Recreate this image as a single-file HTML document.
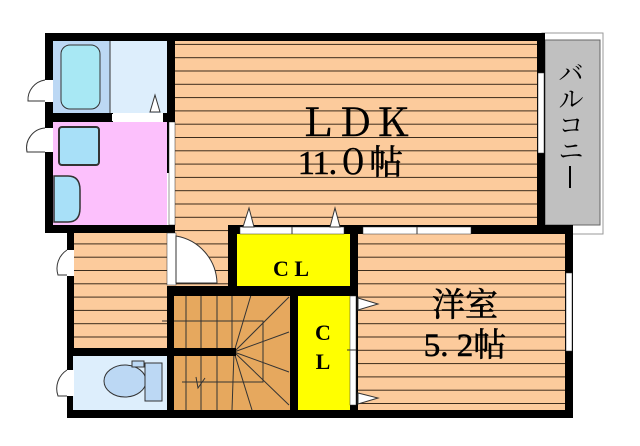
<!DOCTYPE html>
<html><head><meta charset="utf-8"><style>
html,body{margin:0;padding:0;background:#fff;width:640px;height:446px;overflow:hidden}
text{font-family:"Liberation Serif","Noto Serif CJK SC",serif;fill:#000}
.cj{font-family:"Noto Serif CJK SC","Liberation Serif",serif}
</style></head><body>
<svg width="640" height="446" viewBox="0 0 640 446" xmlns="http://www.w3.org/2000/svg">
<defs>
<pattern id="wd" width="10" height="13.3" patternUnits="userSpaceOnUse" y="4">
<rect width="10" height="13.3" fill="#fccb9c"/><line x1="0" y1="0.5" x2="10" y2="0.5" stroke="#3a2a1a" stroke-width="1"/>
</pattern>
</defs>
<rect x="542" y="33" width="61" height="201" fill="#fff" stroke="#999" stroke-width="1"/>
<rect x="545" y="40" width="55" height="185" fill="#c0c0c0" stroke="#666" stroke-width="1"/>
<rect x="175" y="41" width="362" height="185" fill="url(#wd)"/>
<rect x="167" y="226" width="63" height="62" fill="url(#wd)"/>
<rect x="53" y="41" width="57" height="72" fill="#bcd8f4"/>
<rect x="110" y="41" width="57" height="72" fill="#ddeefc"/>
<rect x="61" y="45" width="39" height="64" rx="9" fill="#a8e8f4" stroke="#333"/>
<line x1="110" y1="41" x2="110" y2="113" stroke="#333"/>
<polygon points="150,112 155,95 160,112" fill="#fff" stroke="#333"/>
<rect x="53" y="122" width="114" height="104" fill="#fcc0fc"/>
<rect x="59" y="127" width="40" height="38" rx="3" fill="#a8e0f8" stroke="#333" stroke-width="2"/>
<path d="M54 176 H68 Q80 176 80 190 V208 Q80 222 68 222 H54 Z" fill="#a8e0f8" stroke="#333" stroke-width="1.5"/>
<rect x="45" y="33" width="498" height="8" fill="#000"/>
<rect x="45" y="33" width="8" height="200" fill="#000"/>
<rect x="167" y="33" width="8" height="140" fill="#000"/>
<rect x="169" y="122" width="6" height="103" fill="#fff" stroke="#333" stroke-width="0.5"/>
<rect x="53" y="113" width="60" height="9" fill="#000"/>
<rect x="112" y="114" width="51" height="7" fill="#fff"/>
<rect x="163" y="113" width="12" height="9" fill="#000"/>
<rect x="537" y="33" width="8" height="193" fill="#000"/>
<rect x="538" y="73" width="6" height="80" fill="#fff" stroke="#333" stroke-width="0.5"/>
<rect x="45" y="225" width="130" height="8" fill="#000"/>
<rect x="45" y="80" width="8" height="22" fill="#fff"/>
<path d="M45 80 A20 20 0 0 0 28 101 H45" fill="#fff" stroke="#333"/>
<rect x="45" y="128" width="8" height="24" fill="#fff"/>
<path d="M45 128 A20 20 0 0 0 27 152 H45" fill="#fff" stroke="#333"/>
<rect x="73" y="233" width="97" height="115" fill="url(#wd)"/>
<rect x="67" y="225" width="7" height="193" fill="#000"/>
<rect x="67" y="250" width="7" height="26" fill="#fff"/>
<path d="M67 250 A22 22 0 0 0 58 275 H67" fill="#fff" stroke="#333"/>
<rect x="73" y="355" width="97" height="56" fill="#ddeefc"/>
<rect x="67" y="370" width="7" height="26" fill="#fff"/>
<path d="M67 370 A22 22 0 0 0 58 396 H67" fill="#fff" stroke="#333"/>
<ellipse cx="125" cy="381" rx="21" ry="16" fill="#bcd8f4" stroke="#333"/>
<rect x="145" y="363" width="17" height="38" fill="#bcd8f4" stroke="#333"/>
<rect x="132" y="361" width="12" height="6" fill="#bcd8f4" stroke="#333"/>
<rect x="73" y="348" width="100" height="8" fill="#000"/>
<rect x="172" y="295" width="118" height="116" fill="#e6a85e"/>
<g stroke="#333" stroke-width="1">
<line x1="186" y1="295" x2="186" y2="348"/><line x1="201" y1="295" x2="201" y2="348"/><line x1="217" y1="295" x2="217" y2="348"/><line x1="232" y1="295" x2="232" y2="348"/>
<line x1="186" y1="356" x2="186" y2="410"/><line x1="201" y1="356" x2="201" y2="410"/><line x1="217" y1="356" x2="217" y2="410"/>
<line x1="234" y1="352" x2="251" y2="295"/><line x1="234" y1="352" x2="289" y2="297"/><line x1="234" y1="352" x2="289" y2="332"/>
<line x1="234" y1="352" x2="289" y2="372"/><line x1="234" y1="352" x2="289" y2="405"/><line x1="234" y1="352" x2="252" y2="410"/><line x1="234" y1="352" x2="232" y2="410"/>
<polyline points="162,321 263,321 263,382 182,382" fill="none"/>
<polyline points="196,377 198,388 205,378" fill="none"/>
</g>
<rect x="170" y="348" width="66" height="8" fill="#000"/>
<rect x="167" y="286" width="7" height="124" fill="#000"/>
<rect x="167" y="233" width="9" height="52" fill="#fff" stroke="#333" stroke-width="0.5"/>
<path d="M176 236 A49 49 0 0 1 217 283 H176 Z" fill="#fff" stroke="#333"/>
<rect x="237" y="234" width="113" height="53" fill="#ffff00"/>
<rect x="228" y="225" width="130" height="9" fill="#000"/>
<rect x="240" y="227" width="104" height="7" fill="#fff" stroke="#333" stroke-width="0.5"/>
<line x1="292" y1="227" x2="292" y2="234" stroke="#333"/>
<polygon points="243,227 249,208 254,227" fill="#fff" stroke="#333"/>
<polygon points="330,227 335,208 340,227" fill="#fff" stroke="#333"/>
<rect x="228" y="225" width="9" height="70" fill="#000"/>
<rect x="167" y="286" width="191" height="10" fill="#000"/>
<rect x="298" y="296" width="52" height="115" fill="#ffff00"/>
<rect x="290" y="286" width="8" height="125" fill="#000"/>
<rect x="350" y="225" width="8" height="193" fill="#000"/>
<rect x="358" y="234" width="207" height="176" fill="url(#wd)"/>
<rect x="350" y="296" width="6" height="109" fill="#fff" stroke="#333" stroke-width="0.5"/>
<line x1="347" y1="350" x2="356" y2="350" stroke="#333"/>
<polygon points="358,298 378,304 358,310" fill="#fff" stroke="#333"/>
<polygon points="358,393 378,398 358,404" fill="#fff" stroke="#333"/>
<rect x="345" y="225" width="227" height="9" fill="#000"/>
<rect x="363" y="227" width="108" height="7" fill="#fff" stroke="#333" stroke-width="0.5"/>
<line x1="417" y1="227" x2="417" y2="234" stroke="#333"/>
<rect x="565" y="225" width="8" height="193" fill="#000"/>
<rect x="566" y="273" width="6" height="78" fill="#fff" stroke="#333" stroke-width="0.5"/>
<rect x="67" y="410" width="506" height="8" fill="#000"/>
<text x="355" y="136" font-size="38" text-anchor="middle" stroke="#000" stroke-width="0.6">ＬＤＫ</text>
<text x="350" y="174" font-size="34" text-anchor="middle" stroke="#000" stroke-width="0.6" letter-spacing="-1">11.０帖</text>
<text x="465" y="316" font-size="33" text-anchor="middle" stroke="#000" stroke-width="0.6">洋室</text>
<text x="465" y="356" font-size="33" text-anchor="middle" stroke="#000" stroke-width="0.6">5. 2帖</text>
<text x="291" y="276" font-size="22" font-weight="bold" text-anchor="middle">C L</text>
<text x="323" y="340" font-size="22" font-weight="bold" text-anchor="middle">C</text>
<text x="323" y="369" font-size="22" font-weight="bold" text-anchor="middle">L</text>
<g font-size="25" text-anchor="middle" class="cj">
<text x="571" y="82" class="cj">バ</text><text x="571" y="108" class="cj">ル</text><text x="571" y="134" class="cj">コ</text><text x="571" y="160" class="cj">ニ</text>
<rect x="569" y="166" width="2" height="22" fill="#000"/>
</g>
</svg>
</body></html>
